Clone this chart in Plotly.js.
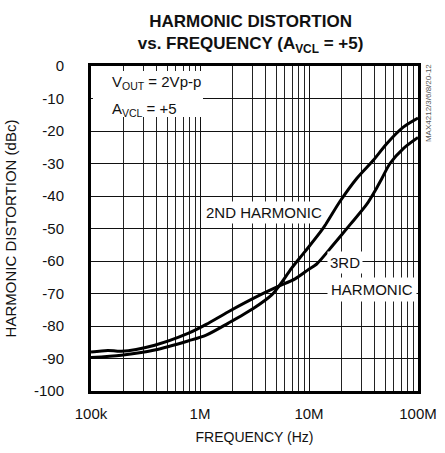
<!DOCTYPE html>
<html>
<head>
<meta charset="utf-8">
<script src="https://cdn.plot.ly/plotly-3.0.1.min.js"></script>
<style>
html,body{margin:0;padding:0;background:#fff;}
#chart{width:445px;height:453px;}
</style>
</head>
<body>
<div id="chart"></div>
<script>
// 2nd harmonic (Hz, dBc)
const freq2 = [1e5, 1.9e5, 3.84e5, 7.76e5, 1.14e6, 1.82e6, 3.08e6, 4.55e6, 5.42e6, 6.93e6, 9.18e6, 1.35e7, 1.92e7, 2.74e7, 3.89e7, 5.16e7, 7.33e7, 1e8];
const dist2 = [-89.7, -89.0, -87.4, -84.6, -82.8, -79.1, -74.6, -70.4, -67.3, -62.2, -57.1, -49.9, -41.7, -34.6, -29.0, -23.9, -18.8, -16.0];
// 3rd harmonic (Hz, dBc)
const freq3 = [1e5, 1.43e5, 1.9e5, 3.84e5, 7.76e5, 1.14e6, 1.82e6, 3.68e6, 5.22e6, 7.45e6, 9.9e6, 1.17e7, 1.67e7, 2.38e7, 3.38e7, 4.18e7, 4.65e7, 5.53e7, 7.33e7, 1e8];
const dist3 = [-88.0, -87.5, -87.8, -85.9, -82.3, -79.5, -75.6, -70.2, -67.8, -65.5, -62.6, -61.0, -55.0, -48.8, -42.6, -37.5, -34.7, -30.0, -25.4, -22.0];

const xTickVals = [1e5, 1e6, 1e7, 1e8];
const xTickText = ['100k', '1M', '10M', '100M'];
const yTickVals = [0, -10, -20, -30, -40, -50, -60, -70, -80, -90, -100];
const yTickText = ['0', '-10', '-20', '-30', '-40', '-50', '-60', '-70', '-80', '-90', '-100'];

const lineStyle = {color: '#000', width: 3, shape: 'spline', smoothing: 0.8};
const traces = [
  {x: freq2, y: dist2, mode: 'lines', line: lineStyle, name: '2ND HARMONIC', hoverinfo: 'skip'},
  {x: freq3, y: dist3, mode: 'lines', line: lineStyle, name: '3RD HARMONIC', hoverinfo: 'skip'}
];

const baseFont = 'Liberation Sans, Arial, sans-serif';

const layout = {
  width: 445, height: 453,
  margin: {l: 91, r: 27, t: 66, b: 62, pad: 0},
  paper_bgcolor: '#fff', plot_bgcolor: '#fff',
  showlegend: false,
  font: {family: baseFont, color: '#111', size: 15},
  title: {
    text: 'HARMONIC DISTORTION<br>vs. FREQUENCY (A<sub>VCL</sub> = +5)',
    font: {family: baseFont, size: 17, weight: 'bold', color: '#111'},
    xref: 'paper', x: 0.488, xanchor: 'center',
    yref: 'container', y: 0.94, yanchor: 'top'
  },
  xaxis: {
    type: 'log', range: [5, 8],
    tickmode: 'array', tickvals: xTickVals, ticktext: xTickText,
    showgrid: true, gridcolor: '#111', gridwidth: 1,
    minor: {dtick: 'D1', showgrid: true, gridcolor: '#222', gridwidth: 1, ticks: ''},
    showline: true, linecolor: '#000', linewidth: 3, mirror: true,
    ticks: '', ticklabelstandoff: 7,
    tickfont: {size: 15, color: '#111'},
    zeroline: false,
    title: {text: 'FREQUENCY (Hz)', font: {size: 14, color: '#111'}, standoff: 12}
  },
  yaxis: {
    range: [-100, 0],
    tickmode: 'array', tickvals: yTickVals, ticktext: yTickText,
    showgrid: true, gridcolor: '#111', gridwidth: 1,
    showline: true, linecolor: '#000', linewidth: 3, mirror: true,
    ticks: '', ticklabelstandoff: 21,
    tickfont: {size: 15, color: '#111'},
    zeroline: false,
    title: {text: 'HARMONIC DISTORTION (dBc)', font: {size: 15, color: '#111'}, standoff: 14}
  },
  shapes: [
    {type: 'rect', xref: 'paper', yref: 'paper', x0: 0.006, x1: 0.3425, y0: 0.843, y1: 0.985,
     fillcolor: '#fff', line: {width: 0}, layer: 'above'}
  ],
  annotations: [
    {text: 'V<sub>OUT</sub> = 2Vp-p', xref: 'paper', yref: 'paper', x: 0.058, y: 0.948,
     xanchor: 'left', yanchor: 'middle', showarrow: false, font: {size: 15, color: '#111'}},
    {text: 'A<sub>VCL</sub> = +5', xref: 'paper', yref: 'paper', x: 0.058, y: 0.865,
     xanchor: 'left', yanchor: 'middle', showarrow: false, font: {size: 15, color: '#111'}},
    {text: '2ND HARMONIC', xref: 'paper', yref: 'paper', x: 0.529, y: 0.548,
     xanchor: 'center', yanchor: 'middle', showarrow: false, bgcolor: '#fff', borderpad: 2,
     font: {size: 15, color: '#111'}},
    {text: '3RD', xref: 'paper', yref: 'paper', x: 0.777, y: 0.394,
     xanchor: 'center', yanchor: 'middle', showarrow: false, bgcolor: '#fff', borderpad: 2,
     font: {size: 15, color: '#111'}},
    {text: 'HARMONIC', xref: 'paper', yref: 'paper', x: 0.859, y: 0.311,
     xanchor: 'center', yanchor: 'middle', showarrow: false, bgcolor: '#fff', borderpad: 3,
     font: {size: 15, color: '#111'}},
    {text: 'MAX4212/3/6/8/20-12', xref: 'paper', yref: 'paper', x: 1.0306, y: 0.886,
     xanchor: 'center', yanchor: 'middle', showarrow: false, textangle: -90,
     font: {size: 8, color: '#555', family: baseFont}}
  ]
};

Plotly.newPlot('chart', traces, layout, {staticPlot: true, displayModeBar: false});
</script>
</body>
</html>
